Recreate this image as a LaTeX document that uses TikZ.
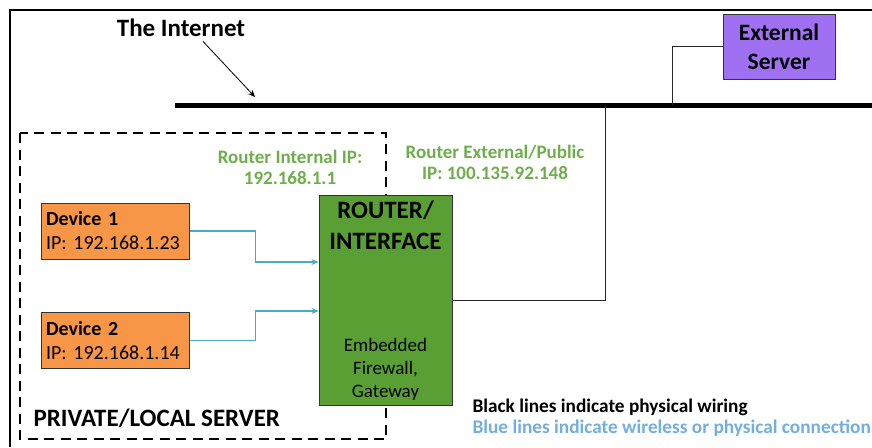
\documentclass[tikz,border=0pt]{standalone}
\usepackage{fontspec}
\setmainfont{Carlito}
\usetikzlibrary{positioning,arrows.meta}

\definecolor{devorange}{HTML}{F79646}
\definecolor{routgreen}{HTML}{5A9F34}
\definecolor{servpurple}{HTML}{A070F2}
\definecolor{ipgreen}{HTML}{6FAE4C}
\definecolor{linkblue}{HTML}{4BA9CC}
\definecolor{noteblue}{HTML}{73AEE0}

\tikzset{
	device/.style={draw=black!80, fill=devorange, line width=1pt, text width=138pt, inner sep=5pt,
		minimum height=56pt, align=left, font=\fontsize{20}{24}\selectfont},
	routerbox/.style={draw=black!80, fill=routgreen, line width=1pt, minimum width=133pt, minimum height=210pt},
	server/.style={draw=black!80, fill=servpurple, line width=1pt, minimum width=112pt, minimum height=65pt,
		align=center, font=\bfseries\fontsize{23.5}{29}\selectfont},
	iplabel/.style={text=ipgreen, align=center, font=\bfseries\fontsize{19}{21}\selectfont},
	wire/.style={line width=1pt, black!85},
	link/.style={line width=1.3pt, linkblue, -{Stealth[length=7pt,width=6pt]}},
}

\begin{document}
\begin{tikzpicture}[x=1pt, y=-1pt]
	\useasboundingbox (0,0) rectangle (872,447);
	\fill [white] (0,0) rectangle (872,447);

	% frame
	\draw [line width=2pt] (872,10) -- (10,10) -- (10,447);

	% private network
	\draw [line width=2.5pt, dash pattern=on 10pt off 6.5pt] (20,133) rectangle (386,439);
	\node [anchor=west, font=\bfseries\fontsize{25}{28}\selectfont] (lan) at (30,418) {PRIVATE/LOCAL SERVER};

	% internet backbone
	\coordinate (busL) at (175,105);
	\coordinate (busR) at (872,105);
	\draw [line width=5pt] (busL) -- (busR);
	\node [font=\bfseries\fontsize{25}{28}\selectfont] (inet) at (181,28) {The Internet};
	\coordinate (netpt) at (255,97);
	\draw [-{Stealth[length=7pt,width=6pt]}, line width=0.8pt] ([xshift=22pt,yshift=-1pt]inet.south) -- (netpt);

	% external server
	\node [server] (srv) at (779,46.5) {External\\Server};
	\coordinate (tap1) at (672,105);
	\draw [wire] (srv.west) -| (tap1);

	% router
	\node [routerbox] (router) at (385.5,300) {};
	\node [below=3pt of router.north, align=center, font=\bfseries\fontsize{25}{31}\selectfont] (rname) {ROUTER/\\INTERFACE};
	\node [above=1pt of router.south, align=center, font=\fontsize{19}{23}\selectfont] (rfw) {Embedded\\Firewall,\\Gateway};
	\coordinate (tap2) at (605,105);
	\draw [wire] (router.east) -| (tap2);

	\node [iplabel] (intip) at (290,167) {Router Internal IP:\\192.168.1.1};
	\node [iplabel] (extip) at (495,162) {Router External/Public\\IP: 100.135.92.148};

	% devices
	\node [device] (dev1) at (115,231) {\textbf{Device 1}\\IP: 192.168.1.23};
	\node [device] (dev2) at (115,340.5) {\textbf{Device 2}\\IP: 192.168.1.14};
	\draw [link] (dev1.east) -- ++(66,0) |- ([yshift=38pt]router.west);
	\draw [link] (dev2.east) -- ++(66,0) |- ([yshift=-11pt]router.west);

	% legend
	\node [anchor=west, font=\bfseries\fontsize{19.3}{21}\selectfont] (key1) at (469,407) {Black lines indicate physical wiring};
	\node [anchor=west, text=noteblue, font=\bfseries\fontsize{19.3}{21}\selectfont] (key2) at (469,428) {Blue lines indicate wireless or physical connection};
\end{tikzpicture}
\end{document}
